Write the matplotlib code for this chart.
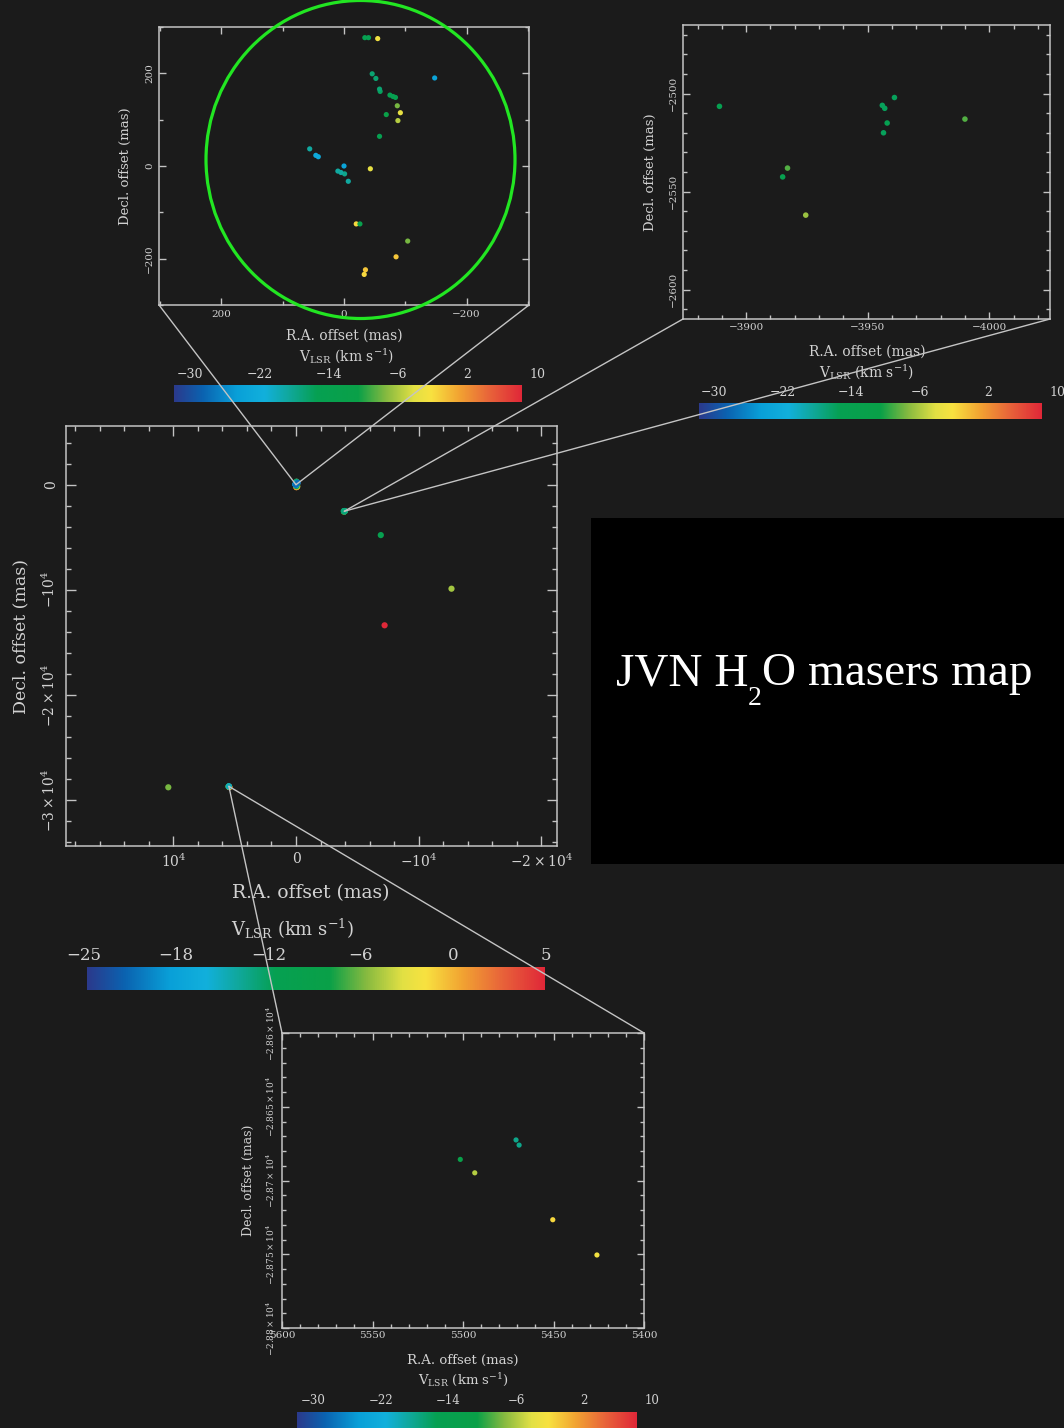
import numpy as np
import matplotlib
matplotlib.use("Agg")
import matplotlib.pyplot as plt
from matplotlib.colors import LinearSegmentedColormap, Normalize
from matplotlib.patches import ConnectionPatch, Ellipse, Rectangle
from matplotlib.ticker import MultipleLocator

plt.rcParams['font.family'] = ['DejaVu Serif']
plt.rcParams['mathtext.fontset'] = 'dejavuserif'

# ---------------- data ----------------
# core region (top-left zoom), mas
core_ra = [-34, -40, -55, -46, -52, -148, -58, -59, -75, -80, -84, -87, -92, -69, -88, -58,
           56, 46, 42, 0, -43, 10, 5, -1, -7, -20, -26, -104, -85, -35, -33]
core_dec = [277, 277, 275, 199, 189, 190, 166, 161, 153, 150, 148, 130, 115, 111, 98, 64,
            37, 23, 20, 0, -6, -11, -14, -17, -33, -125, -125, -162, -196, -224, -234]
core_v = [-13, -13, -1, -15, -15, -22, -15, -14, -13, -13, -12, -6, -2, -9, -4, -13,
          -17, -21, -21, -22, -2, -17, -17, -16, -17, 0, -11, -6, 1, 1, 0]

# top-right zoom cluster
tr_ra = [-3889, -3956, -3957, -3961, -3958, -3956.5, -3990, -3917, -3915, -3924.5]
tr_dec = [-2506.5, -2506, -2507.5, -2502, -2515, -2520, -2513, -2538, -2542.5, -2562]
tr_v = [-13, -14, -14, -14, -13, -14, -7, -7, -12, -5]

# bottom zoom cluster
bc_ra = [5470.7, 5469, 5501.5, 5493.5, 5450.4, 5426]
bc_dec = [-28672.5, -28676, -28685.7, -28694.8, -28726.6, -28750.5]
bc_v = [-16, -16, -10, -4, 0, -1]

# isolated features only visible in the wide map
iso_ra = [-6911, -12673, -7221, 10407]
iso_dec = [-4790, -9886, -13365, -28764]
iso_v = [-12, -6, 5, -7]

# colour scales
inset_vrange = (-30, 10)
main_vrange = (-25, 5)
inset_cbar_labels = ["\u221230", "\u221222", "\u221214", "\u22126", "2", "10"]
main_cbar_labels = ["\u221225", "\u221218", "\u221212", "\u22126", "0", "5"]

# tick labels
tl_xticks = [200, 0, -200]
tl_xticklabels = ["200", "0", "\u2212200"]
tl_yticks = [-200, 0, 200]
tl_yticklabels = ["\u2212200", "0", "200"]

tr_xticks = [-3900, -3950, -4000]
tr_xticklabels = ["\u22123900", "\u22123950", "\u22124000"]
tr_yticks = [-2600, -2550, -2500]
tr_yticklabels = ["\u22122600", "\u22122550", "\u22122500"]

mn_xticks = [1e4, 0, -1e4, -2e4]
mn_xticklabels = [r"$10^4$", "0", r"$-10^4$", r"$-2\times10^4$"]
mn_yticks = [0, -1e4, -2e4, -3e4]
mn_yticklabels = ["0", r"$-10^4$", r"$-2\times10^4$", r"$-3\times10^4$"]

bt_xticks = [5600, 5550, 5500, 5450, 5400]
bt_xticklabels = ["5600", "5550", "5500", "5450", "5400"]
bt_yticks = [-28800, -28750, -28700, -28650, -28600]
bt_yticklabels = [r"$-2.88\times10^4$", r"$-2.875\times10^4$", r"$-2.87\times10^4$",
                  r"$-2.865\times10^4$", r"$-2.86\times10^4$"]

xlabel_text = "R.A. offset (mas)"
ylabel_text = "Decl. offset (mas)"
vlabel_text = r"V$_{\rm LSR}$ (km s$^{-1}$)"

# ---------------- style ----------------
W, H = 1064, 1428
BG = '#1b1b1b'
FG = '#d2d2d2'
LINE = '#c4c4c4'

cmap = LinearSegmentedColormap.from_list('vlsr', [
    (0.00, '#2b3a8c'), (0.08, '#0b62b0'), (0.18, '#09a0d8'), (0.26, '#12b0dc'),
    (0.33, '#10a89c'), (0.41, '#06a052'), (0.53, '#0aa048'), (0.61, '#86ba40'),
    (0.69, '#e2e044'), (0.74, '#f8e240'), (0.82, '#f2a432'), (0.91, '#e8623a'),
    (1.00, '#e02838')])

fig = plt.figure(figsize=(W / 100, H / 100), dpi=100, facecolor=BG)


def fx(px):
    return px / W


def fy(py):
    return 1 - py / H


def px_axes(l, t, r, b):
    ax = fig.add_axes([fx(l), fy(b), fx(r - l), (b - t) / H])
    ax.set_facecolor(BG)
    return ax


def style_axes(ax, minor, tick_len, tick_fs, xpad, ypad, lw=1.1):
    for s in ax.spines.values():
        s.set_color(LINE)
        s.set_linewidth(lw)
    ax.tick_params(which='both', direction='in', top=True, right=True, colors=LINE,
                   labelcolor=FG, width=lw * 0.9, labelsize=tick_fs)
    ax.tick_params(which='major', length=tick_len)
    ax.tick_params(which='minor', length=tick_len * 0.55)
    ax.tick_params(axis='x', pad=xpad)
    ax.tick_params(axis='y', pad=ypad)
    ax.xaxis.set_minor_locator(MultipleLocator(minor))
    ax.yaxis.set_minor_locator(MultipleLocator(minor))


def dots(ax, ra, dec, v, norm, s):
    # draw the most blue-shifted features last so they sit on top
    order = np.argsort(-np.asarray(v, dtype=float), kind='stable')
    ax.scatter(np.asarray(ra)[order], np.asarray(dec)[order], c=np.asarray(v)[order],
               cmap=cmap, norm=norm, s=s, linewidths=0)


def colorbar(box, vrange, labels, lab_x0, lab_x1, lab_y, fs):
    l, t, r, b = box
    cax = px_axes(l, t, r, b)
    grad = np.linspace(vrange[0], vrange[1], 512)[None, :]
    cax.imshow(grad, cmap=cmap, norm=Normalize(*vrange), aspect='auto',
               extent=[vrange[0], vrange[1], 0, 1])
    cax.set_axis_off()
    for lab, x in zip(labels, np.linspace(lab_x0, lab_x1, len(labels))):
        fig.text(fx(x), fy(lab_y), lab, ha='center', va='center', color=FG, fontsize=fs)
    return cax


inorm = Normalize(*inset_vrange)
mnorm = Normalize(*main_vrange)

# ---------------- top-left panel (core) ----------------
ax_tl = px_axes(159, 27, 529, 305)
dots(ax_tl, core_ra, core_dec, core_v, inorm, 14)
ax_tl.set_xlim(302, -302)
ax_tl.set_ylim(-300, 300)
ax_tl.set_xticks(tl_xticks, tl_xticklabels)
ax_tl.set_yticks(tl_yticks, tl_yticklabels, rotation=90, va='center')
style_axes(ax_tl, 100, 5, 7.5, 3.5, 3.5)
fig.text(fx(344), fy(336), xlabel_text, ha='center', va='center', color=FG, fontsize=10)
fig.text(fx(347), fy(356), vlabel_text, ha='center', va='center', color=FG, fontsize=10)
fig.text(fx(125), fy(166), ylabel_text, ha='center', va='center', color=FG, fontsize=9.5,
         rotation=90)
colorbar((174, 385, 522, 402), inset_vrange, inset_cbar_labels, 190, 537, 374, 9)

# ---------------- top-right panel ----------------
ax_tr = px_axes(683, 25, 1050, 319)
dots(ax_tr, tr_ra, tr_dec, tr_v, inorm, 16)
ax_tr.set_xlim(-3874, -4025)
ax_tr.set_ylim(-2615, -2465)
ax_tr.set_xticks(tr_xticks, tr_xticklabels)
ax_tr.set_yticks(tr_yticks, tr_yticklabels, rotation=90, va='center')
style_axes(ax_tr, 10, 5, 7.5, 3, 3.5)
fig.text(fx(867), fy(352), xlabel_text, ha='center', va='center', color=FG, fontsize=10)
fig.text(fx(867), fy(372), vlabel_text, ha='center', va='center', color=FG, fontsize=10)
fig.text(fx(650), fy(172), ylabel_text, ha='center', va='center', color=FG, fontsize=9.5,
         rotation=90)
colorbar((699, 403, 1042, 419), inset_vrange, inset_cbar_labels, 714, 1057, 392, 9)

# ---------------- main panel ----------------
ax_mn = px_axes(66, 426, 556.7, 846)
for ra, dec, v in [(iso_ra, iso_dec, iso_v), (tr_ra, tr_dec, tr_v),
                   (bc_ra, bc_dec, bc_v), (core_ra, core_dec, core_v)]:
    dots(ax_mn, ra, dec, v, mnorm, 20)
ax_mn.set_xlim(18745, -21247)
ax_mn.set_ylim(-34344, 5580)
ax_mn.set_xticks(mn_xticks, mn_xticklabels)
ax_mn.set_yticks(mn_yticks, mn_yticklabels, rotation=90, va='center')
style_axes(ax_mn, 2000, 7, 10, 4.5, 6)
fig.text(fx(311), fy(893), xlabel_text, ha='center', va='center', color=FG, fontsize=13.5)
fig.text(fx(292), fy(929), vlabel_text, ha='center', va='center', color=FG, fontsize=13)
fig.text(fx(21), fy(636), ylabel_text, ha='center', va='center', color=FG, fontsize=12.5,
         rotation=90)
colorbar((87, 967, 545, 990), main_vrange, main_cbar_labels, 83.5, 545.6, 955, 12)

# ---------------- bottom panel ----------------
ax_bt = px_axes(282, 1033, 644, 1328)
dots(ax_bt, bc_ra, bc_dec, bc_v, inorm, 14)
ax_bt.set_xlim(5600, 5400)
ax_bt.set_ylim(-28800, -28600)
ax_bt.set_xticks(bt_xticks, bt_xticklabels)
ax_bt.set_yticks(bt_yticks, bt_yticklabels, rotation=90, va='center')
style_axes(ax_bt, 10, 5, 6.5, 2.5, 3.5)
ax_bt.tick_params(axis='x', labelsize=7.5)
fig.text(fx(463), fy(1360), xlabel_text, ha='center', va='center', color=FG, fontsize=9.5)
fig.text(fx(463), fy(1380), vlabel_text, ha='center', va='center', color=FG, fontsize=9.5)
fig.text(fx(248), fy(1180), ylabel_text, ha='center', va='center', color=FG, fontsize=9,
         rotation=90)
colorbar((297, 1412, 637, 1430), inset_vrange, inset_cbar_labels, 313, 652, 1400, 8.5)

# ---------------- connectors ----------------
core_ref = (core_ra[19], core_dec[19])
tr_ref = (float(np.mean(tr_ra)), float(np.mean(tr_dec)))
bc_ref = (float(np.mean(bc_ra[:2])), float(np.mean(bc_dec[:2])))
links = [
    (ax_tl, (0, 0), core_ref), (ax_tl, (1, 0), core_ref),
    (ax_tr, (0, 0), tr_ref), (ax_tr, (1, 0), tr_ref),
    (ax_bt, (0, 1), bc_ref), (ax_bt, (1, 1), bc_ref),
]
for ax_in, corner, target in links:
    cp = ConnectionPatch(xyA=corner, coordsA=ax_in.transAxes, xyB=target,
                         coordsB=ax_mn.transData, color=LINE, lw=1.0, zorder=20)
    fig.add_artist(cp)

# green circle on the core panel
fig.add_artist(Ellipse((fx(360.5), fy(159.5)), width=309 / W, height=318 / H,
                       transform=fig.transFigure, fill=False, ec='#22e622', lw=2.3,
                       zorder=21))

# title box
fig.add_artist(Rectangle((fx(591), fy(864)), fx(1064 - 591), (864 - 518) / H,
                         transform=fig.transFigure, fc='black', ec='none', zorder=1))
fig.text(fx(748), fy(685), "JVN H", ha='right', va='baseline', color='white',
         family='Liberation Serif', fontsize=34, zorder=5)
fig.text(fx(748), fy(705), "2", ha='left', va='baseline', color='white',
         family='Liberation Serif', fontsize=20, zorder=5)
fig.text(fx(762), fy(685), "O masers map", ha='left', va='baseline', color='white',
         family='Liberation Serif', fontsize=34, zorder=5)

fig.savefig('out.png', dpi=100, facecolor=fig.get_facecolor())
